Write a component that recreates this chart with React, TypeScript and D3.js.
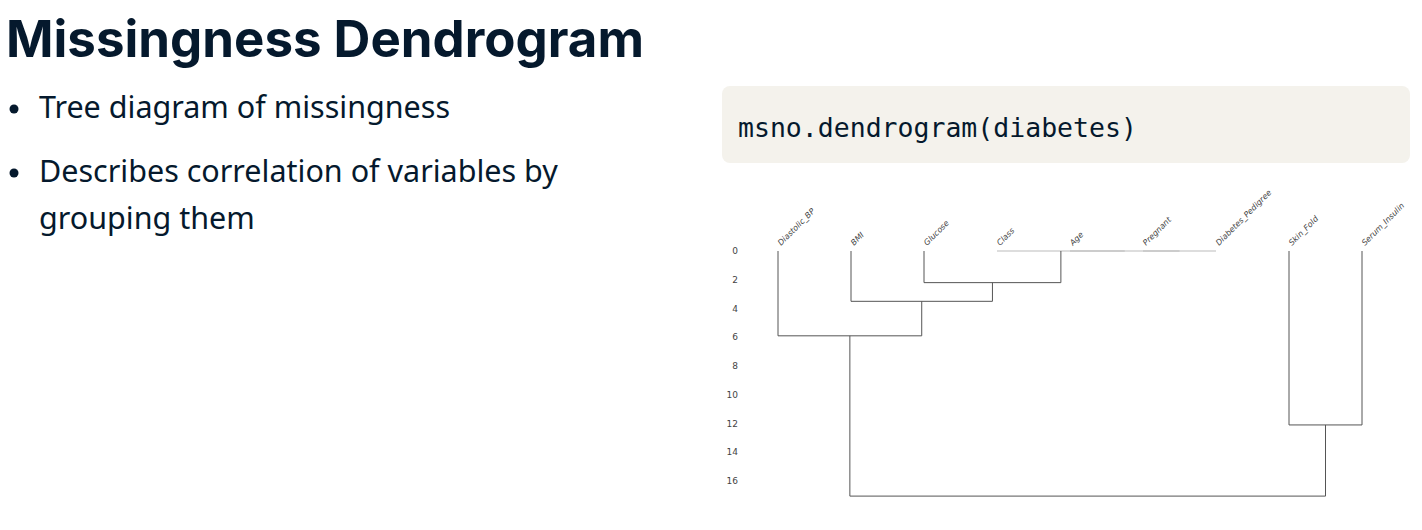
import * as d3 from 'd3';

const leaves = ['Diastolic_BP', 'BMI', 'Glucose', 'Class', 'Age', 'Pregnant', 'Diabetes_Pedigree', 'Skin_Fold', 'Serum_Insulin'];
// merges: [left, right, height]; ids >= leaves.length refer to earlier merges
const merges: [number, number, number][] = [
  [5, 6, 0],
  [4, 9, 0],
  [3, 10, 0],
  [2, 11, 2.2],
  [1, 12, 3.5],
  [0, 13, 5.9],
  [7, 8, 12.1],
  [14, 15, 17.05],
];
const yTicks = [0, 2, 4, 6, 8, 10, 12, 14, 16];
const bullets = [['Tree diagram of missingness'], ['Describes correlation of variables by', 'grouping them']];

const navy = '#05192d';

export default function App() {
  const x = d3.scalePoint<string>().domain(leaves).range([778, 1362]);
  const y = d3.scaleLinear().domain([0, 16]).range([251, 481]);

  const nodes: { x: number; h: number }[] = leaves.map(l => ({ x: x(l)!, h: 0 }));
  const links: string[] = [];
  merges.forEach(([a, b, h]) => {
    const na = nodes[a], nb = nodes[b];
    const p = d3.path();
    p.moveTo(na.x, y(na.h));
    p.lineTo(na.x, y(h));
    p.lineTo(nb.x, y(h));
    p.lineTo(nb.x, y(nb.h));
    links.push(p.toString());
    nodes.push({ x: (na.x + nb.x) / 2, h });
  });

  return (
    <div style={{ position: 'fixed', inset: 0, background: '#fff' }}>
      <svg width={1422} height={530} style={{ display: 'block' }}>
        <text x={6} y={57} fill={navy} fontFamily="Inter, 'Noto Sans', sans-serif" fontWeight={700} fontSize={51}>
          Missingness Dendrogram
        </text>
        {bullets.map((lines, i) => (
          <g key={i} fontFamily="'Noto Sans', sans-serif" fontSize={30.5} fill={navy}>
            <circle cx={14} cy={[118, 182][i] - 9} r={4.5} fill={navy} />
            {lines.map((t, j) => (
              <text key={j} x={39} y={[118, 182][i] + j * 47}>{t}</text>
            ))}
          </g>
        ))}
        <rect x={722} y={86} width={688} height={77} rx={8} fill="#f4f2ec" />
        <text x={738} y={137} fill={navy} fontFamily="'DejaVu Sans Mono', monospace" fontSize={26.5}>
          msno.dendrogram(diabetes)
        </text>
        <g fontFamily="'DejaVu Sans', sans-serif" fontSize={9} fill="#444">
          {yTicks.map(t => (
            <text key={t} x={738} y={y(t) + 3} textAnchor="end">{t}</text>
          ))}
          {leaves.map(l => (
            <text key={l} transform={`translate(${x(l)! + 3},${y(0) - 5}) rotate(-45)`} fontSize={8} fontStyle="italic">{l}</text>
          ))}
        </g>
        <g fill="none" stroke="#555" strokeWidth={1}>
          {links.map((d, i) => (
            <path key={i} d={d} stroke={merges[i][2] === 0 ? '#bbb' : '#555'} />
          ))}
        </g>
      </svg>
    </div>
  );
}
